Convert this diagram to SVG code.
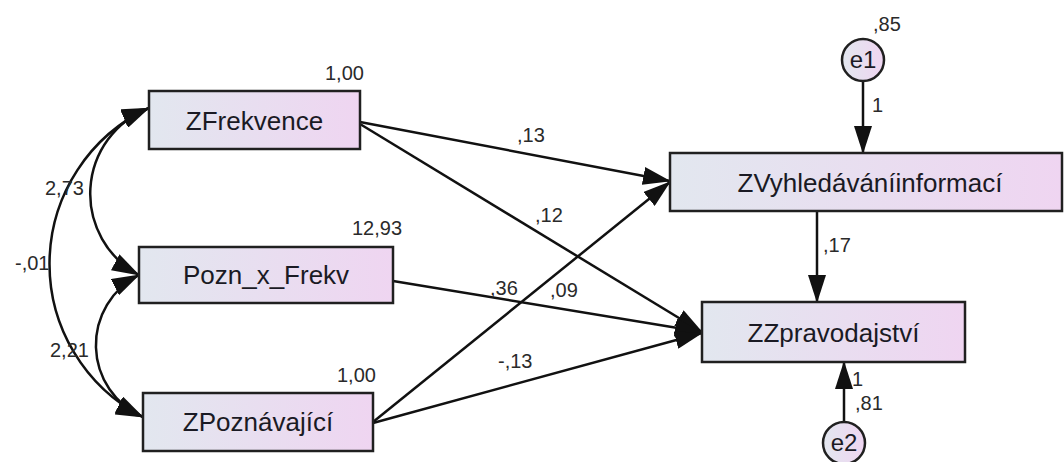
<svg xmlns="http://www.w3.org/2000/svg" width="1064" height="462" viewBox="0 0 1064 462">
  <style>
    .box { stroke: #202020; stroke-width: 2.5; fill: url(#boxFill); }
    .err { stroke: #202020; stroke-width: 2.5; fill: url(#boxFill); }
    .name { font-family: "Liberation Sans", Arial, sans-serif; font-size: 26px; fill: #1a1a24; text-anchor: middle; }
    .ename { font-family: "Liberation Sans", Arial, sans-serif; font-size: 24px; fill: #1a1a24; text-anchor: middle; }
    .val { font-family: "Liberation Sans", Arial, sans-serif; font-size: 20px; fill: #2a2a2a; }
    .path { stroke: #111; stroke-width: 2.5; fill: none; marker-end: url(#head); }
    .cov { stroke: #111; stroke-width: 2.5; fill: none; marker-start: url(#head); marker-end: url(#head); }
  </style>
  <defs>
    <linearGradient id="boxFill" x1="0" y1="0" x2="1" y2="0">
      <stop offset="0" stop-color="#e2e7ef"/>
      <stop offset="1" stop-color="#efd5f1"/>
    </linearGradient>
    <marker id="head" markerUnits="userSpaceOnUse" viewBox="0 0 28 18" markerWidth="28" markerHeight="18" refX="27" refY="9" orient="auto-start-reverse">
      <path d="M0,0 L28,9 L0,18 Z" fill="#111"/>
    </marker>
  </defs>

  <rect width="1064" height="462" fill="#ffffff"/>

  <!-- connectors -->
  <g id="connectors">
    <!-- regression paths -->
    <line class="path" x1="360" y1="122" x2="670" y2="181"/>
    <line class="path" x1="360" y1="124" x2="702" y2="332"/>
    <line class="path" x1="393" y1="281" x2="702" y2="332"/>
    <line class="path" x1="373" y1="422" x2="670" y2="182"/>
    <line class="path" x1="373" y1="423" x2="702" y2="333"/>
    <line class="path" x1="817" y1="211" x2="817" y2="302"/>
    <!-- error terms -->
    <line class="path" x1="863" y1="81" x2="863" y2="153"/>
    <line class="path" x1="844" y1="422" x2="844" y2="362"/>
    <!-- covariances -->
    <path class="cov" d="M149,108 A92,92 0 0 0 139,275"/>
    <path class="cov" d="M139,275 A78.5,78.5 0 0 0 143,417"/>
    <path class="cov" d="M149,108 A172,172 0 0 0 143,417"/>
  </g>

  <!-- connector values -->
  <g id="estimates">
    <text class="val" x="517" y="142">,13</text>
    <text class="val" x="535" y="222">,12</text>
    <text class="val" x="490" y="295">,36</text>
    <text class="val" x="550" y="297">,09</text>
    <text class="val" x="498" y="368">-,13</text>
    <text class="val" x="823" y="252">,17</text>
    <text class="val" x="872" y="112">1</text>
    <text class="val" x="852" y="386">1</text>
    <text class="val" x="45" y="195">2,73</text>
    <text class="val" x="15" y="270">-,01</text>
    <text class="val" x="50" y="357">2,21</text>
  </g>

  <g id="ZFrekvence">
    <rect class="box" x="149" y="91" width="211" height="58"/>
    <text class="name" x="254.5" y="129.5">ZFrekvence</text>
    <text class="val" x="325" y="80">1,00</text>
  </g>

  <g id="Pozn_x_Frekv">
    <rect class="box" x="139" y="247" width="254" height="56"/>
    <text class="name" x="266" y="284">Pozn_x_Frekv</text>
    <text class="val" x="352" y="235">12,93</text>
  </g>

  <g id="ZPoznavajici">
    <rect class="box" x="143" y="393" width="230" height="58"/>
    <text class="name" x="258" y="431">ZPoznávající</text>
    <text class="val" x="337" y="382">1,00</text>
  </g>

  <g id="ZVyhledavaniinformaci">
    <rect class="box" x="670" y="153" width="392" height="58"/>
    <text class="name" x="870" y="192">ZVyhledáváníinformací</text>
  </g>

  <g id="ZZpravodajstvi">
    <rect class="box" x="702" y="302" width="263" height="60"/>
    <text class="name" x="833.5" y="342">ZZpravodajství</text>
  </g>

  <g id="e1">
    <circle class="err" cx="863" cy="60" r="21"/>
    <text class="ename" x="863" y="68">e1</text>
    <text class="val" x="873" y="31">,85</text>
  </g>

  <g id="e2">
    <circle class="err" cx="844" cy="443" r="21"/>
    <text class="ename" x="844" y="451">e2</text>
    <text class="val" x="855" y="410">,81</text>
  </g>
</svg>
